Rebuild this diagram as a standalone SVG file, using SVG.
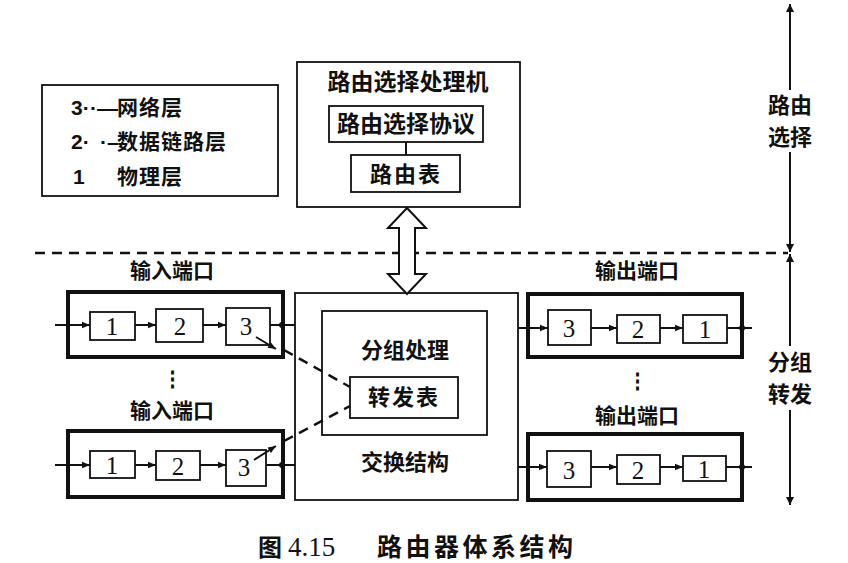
<svg xmlns="http://www.w3.org/2000/svg" width="848" height="563" viewBox="0 0 848 563">
<defs>
<marker id="ah" viewBox="0 0 10 10" refX="10" refY="5" markerWidth="10" markerHeight="8" markerUnits="userSpaceOnUse" orient="auto-start-reverse">
<path d="M0,1 L10,5 L0,9 Z" fill="#111"/>
</marker>
<marker id="ahl" viewBox="0 0 10 10" refX="10" refY="5" markerWidth="8" markerHeight="12" markerUnits="userSpaceOnUse" orient="auto-start-reverse">
<path d="M0,0 L10,5 L0,10 Z" fill="#111"/>
</marker>
</defs>
<style>
.b{fill:#fff;stroke:#111;stroke-width:1.8}
.tb{fill:none;stroke:#111;stroke-width:4}
.l{stroke:#111;stroke-width:2;fill:none}
.d{stroke:#111;stroke-width:2.5;fill:none;stroke-dasharray:10 7}
.t{font-family:"Noto Sans CJK SC","Noto Sans",sans-serif;font-weight:bold;font-size:21px;fill:#111;text-anchor:middle}
.n{font-family:"Liberation Serif",serif;font-size:25px;fill:#111;text-anchor:middle}
.g{font-family:"Noto Sans CJK SC",sans-serif;font-weight:bold;font-size:21px;fill:#111}
.s{font-family:"Liberation Sans",sans-serif;font-weight:bold;font-size:21px;fill:#111}
</style>
<rect width="848" height="563" fill="#fff"/>

<g id="legend">
<rect class="b" x="42" y="85" width="236" height="111"/>
<text class="s" x="71" y="115">3·</text>
<text class="s" x="90" y="115">·—</text>
<text class="g" x="117" y="115" letter-spacing="1">网络层</text>
<text class="s" x="71" y="149">2·</text>
<text class="s" x="100" y="149">·–</text>
<text class="g" x="117" y="149" letter-spacing="1">数据链路层</text>
<text class="s" x="73" y="184">1</text>
<text class="g" x="117" y="184" letter-spacing="1">物理层</text>
</g>

<g id="router-processor">
<rect class="b" x="297" y="62" width="223" height="145"/>
<text class="t" x="408" y="90" style="font-size:23px">路由选择处理机</text>
<rect class="b" x="329" y="106" width="154" height="36"/>
<text class="t" x="406" y="132" style="font-size:23px">路由选择协议</text>
<line class="l" x1="406" y1="142" x2="406" y2="155"/>
<rect class="b" x="351" y="155" width="109" height="37"/>
<text class="t" x="406" y="182" style="font-size:22px" letter-spacing="2">路由表</text>
</g>

<g id="switch-fabric">
<rect class="b" x="295" y="293" width="223" height="207"/>
<rect class="b" x="322" y="311" width="165" height="124"/>
<text class="t" x="405" y="358" style="font-size:22px">分组处理</text>
<rect class="b" x="350" y="377" width="108" height="41"/>
<text class="t" x="404" y="405" style="font-size:22px" letter-spacing="2">转发表</text>
<text class="t" x="405" y="470" style="font-size:22px">交换结构</text>
</g>

<g id="input-port-1">
<text class="t" x="172" y="278">输入端口</text>
<rect class="tb" x="68" y="292" width="215" height="65"/>
<rect class="b" x="90" y="312" width="45" height="28"/>
<text class="n" x="112" y="335">1</text>
<rect class="b" x="156" y="309" width="47" height="33"/>
<text class="n" x="180" y="335">2</text>
<rect class="b" x="226" y="308" width="44" height="37"/>
<text class="n" x="246" y="335">3</text>
</g>

<g id="input-port-2">
<text class="t" x="172" y="418">输入端口</text>
<rect class="tb" x="68" y="431" width="215" height="66"/>
<rect class="b" x="90" y="451" width="45" height="27"/>
<text class="n" x="112" y="474">1</text>
<rect class="b" x="156" y="451" width="44" height="29"/>
<text class="n" x="178" y="475">2</text>
<rect class="b" x="226" y="450" width="40" height="36"/>
<text class="n" x="244" y="476">3</text>
</g>

<g id="output-port-1">
<text class="t" x="637" y="278">输出端口</text>
<rect class="tb" x="528" y="294" width="214" height="63"/>
<rect class="b" x="548" y="310" width="43" height="35"/>
<text class="n" x="569" y="337">3</text>
<rect class="b" x="617" y="315" width="43" height="28"/>
<text class="n" x="638" y="338">2</text>
<rect class="b" x="683" y="315" width="44" height="28"/>
<text class="n" x="705" y="338">1</text>
</g>

<g id="output-port-2">
<text class="t" x="637" y="423">输出端口</text>
<rect class="tb" x="528" y="434" width="214" height="66"/>
<rect class="b" x="547" y="451" width="44" height="36"/>
<text class="n" x="569" y="479">3</text>
<rect class="b" x="617" y="455" width="43" height="29"/>
<text class="n" x="638" y="479">2</text>
<rect class="b" x="683" y="456" width="43" height="25"/>
<text class="n" x="704" y="478">1</text>
</g>

<g id="labels">
<text class="t" x="172" y="386">⋮</text>
<text class="t" x="637" y="388">⋮</text>
<text class="t" x="790" y="113" style="font-size:22px">路由</text>
<text class="t" x="790" y="145" style="font-size:22px">选择</text>
<text class="t" x="790" y="370" style="font-size:22px">分组</text>
<text class="t" x="790" y="402" style="font-size:22px">转发</text>
<text class="g" x="258" y="556" style="font-size:24px">图</text>
<text x="288" y="556" style="font-family:'Liberation Serif',serif;font-size:27px;fill:#111">4.15</text>
<text class="g" x="377" y="556" style="font-size:25px" letter-spacing="3.5">路由器体系结构</text>
</g>

<g id="connectors">
<line class="d" x1="35" y1="253" x2="788" y2="253"/>
<line class="l" x1="790" y1="4" x2="790" y2="90" marker-start="url(#ahl)"/>
<line class="l" x1="790" y1="152" x2="790" y2="252" marker-end="url(#ahl)"/>
<line class="l" x1="790" y1="254" x2="790" y2="346" marker-start="url(#ahl)"/>
<line class="l" x1="790" y1="410" x2="790" y2="505" marker-end="url(#ahl)"/>
<path d="M407,208 L426,228 L415,228 L415,274 L426,274 L407,294 L388,274 L399,274 L399,228 L388,228 Z" fill="#fff" stroke="#111" stroke-width="2"/>
<line class="l" x1="55" y1="325" x2="90" y2="325" marker-end="url(#ah)"/>
<line class="l" x1="135" y1="325" x2="156" y2="325" marker-end="url(#ah)"/>
<line class="l" x1="203" y1="325" x2="226" y2="325" marker-end="url(#ah)"/>
<line class="l" x1="270" y1="325" x2="295" y2="325"/>
<circle cx="282" cy="325" r="3" fill="#111"/>
<line class="l" x1="256" y1="337" x2="276" y2="349" marker-end="url(#ah)"/>
<line class="l" x1="55" y1="465" x2="90" y2="465" marker-end="url(#ah)"/>
<line class="l" x1="135" y1="465" x2="156" y2="465" marker-end="url(#ah)"/>
<line class="l" x1="200" y1="465" x2="226" y2="465" marker-end="url(#ah)"/>
<line class="l" x1="266" y1="465" x2="295" y2="465"/>
<circle cx="282" cy="465" r="3" fill="#111"/>
<line class="l" x1="254" y1="460" x2="276" y2="446" marker-end="url(#ah)"/>
<line class="d" x1="284" y1="350" x2="350" y2="387"/>
<line class="d" x1="284" y1="441" x2="350" y2="406"/>
<line class="l" x1="518" y1="328" x2="548" y2="328" marker-end="url(#ah)"/>
<line class="l" x1="591" y1="328" x2="617" y2="328" marker-end="url(#ah)"/>
<line class="l" x1="660" y1="328" x2="683" y2="328" marker-end="url(#ah)"/>
<line class="l" x1="727" y1="328" x2="752" y2="328"/>
<circle cx="742" cy="328" r="3" fill="#111"/>
<line class="l" x1="518" y1="467" x2="547" y2="467" marker-end="url(#ah)"/>
<line class="l" x1="591" y1="467" x2="617" y2="467" marker-end="url(#ah)"/>
<line class="l" x1="660" y1="467" x2="683" y2="467" marker-end="url(#ah)"/>
<line class="l" x1="726" y1="467" x2="752" y2="467"/>
<circle cx="742" cy="467" r="3" fill="#111"/>
</g>
</svg>
